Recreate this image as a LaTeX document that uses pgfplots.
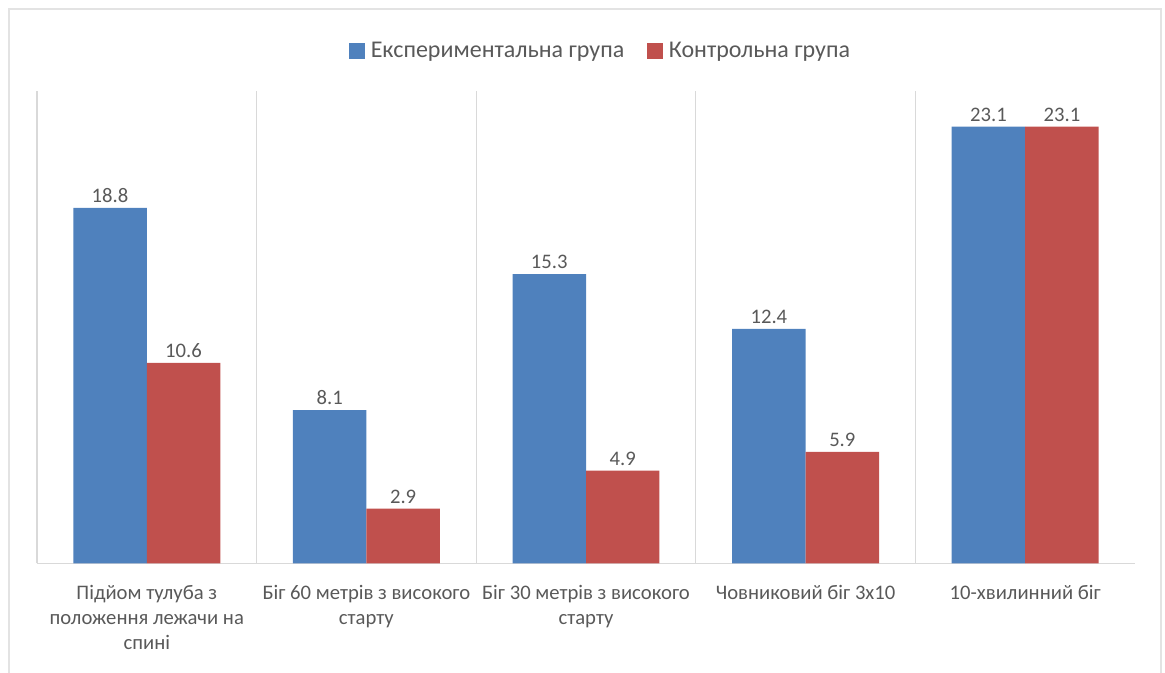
\documentclass[border=0pt]{standalone}
\usepackage{pgfplots}
\pgfplotsset{compat=1.18}
\usepackage{fontspec}
\setmainfont{Carlito}

\definecolor{expblue}{HTML}{4F81BD}
\definecolor{ctrlred}{HTML}{C0504D}
\definecolor{textgray}{HTML}{595959}
\definecolor{gridgray}{HTML}{D9D9D9}
\definecolor{framegray}{HTML}{E3E3E3}

\begin{document}
\begin{tikzpicture}
% chart frame (bottom edge lies below the page)
\draw[framegray, line width=0.9pt] (6.75pt,-520pt) -- (6.75pt,-6.75pt) -- (870.75pt,-6.75pt) -- (870.75pt,-520pt);
\begin{axis}[
  at={(27.75pt,-422.5pt)}, anchor=south west,
  scale only axis,
  width=823.5pt, height=354.4pt,
  xmin=-0.5, xmax=4.5, ymin=0, ymax=25,
  ybar=0pt, bar width=55.1pt,
  axis y line=none,
  axis x line*=bottom,
  x axis line style={draw=gridgray, line width=0.9pt, -},
  xtick={0,1,2,3,4},
  xticklabels={
    {Підйом тулуба з\\положення лежачи на\\спині},
    {Біг 60 метрів з високого\\старту},
    {Біг 30 метрів з високого\\старту},
    {Човниковий біг 3х10},
    {10-хвилинний біг}},
  major tick length=0pt,
  xticklabel style={font=\fontsize{15.5}{18.9}\selectfont, align=center, text=textgray, yshift=-13pt},
  extra x ticks={-0.5,0.5,1.5,2.5,3.5},
  extra x tick labels={},
  extra x tick style={grid=major, major grid style={draw=gridgray, line width=0.9pt}},
  ytick=\empty,
  nodes near coords,
  nodes near coords style={font=\fontsize{15.5}{18}\selectfont, text=textgray, anchor=south, inner sep=0pt, yshift=3.75pt,
    /pgf/number format/.cd, fixed, fixed zerofill, precision=1, assume math mode=true},
  legend columns=2,
  legend style={at={(0.5128,1.084)}, anchor=center, draw=none, fill=none,
    font=\fontsize{18}{21}\selectfont, text=textgray,
    /tikz/every even column/.append style={column sep=16pt},
    nodes={inner ysep=1pt, inner xsep=1pt}},
  legend image code/.code={\fill[#1] (0pt,-6pt) rectangle (12pt,6pt); \path (15.5pt,0pt);},
]
\addplot[fill=expblue, draw=none] coordinates {(0,18.8) (1,8.1) (2,15.3) (3,12.4) (4,23.1)};
\addplot[fill=ctrlred, draw=none] coordinates {(0,10.6) (1,2.9) (2,4.9) (3,5.9) (4,23.1)};
\legend{Експериментальна група, Контрольна група}
\end{axis}
\pgfresetboundingbox
\useasboundingbox (0pt,0pt) rectangle (873.75pt,-504.75pt);
\end{tikzpicture}
\end{document}
